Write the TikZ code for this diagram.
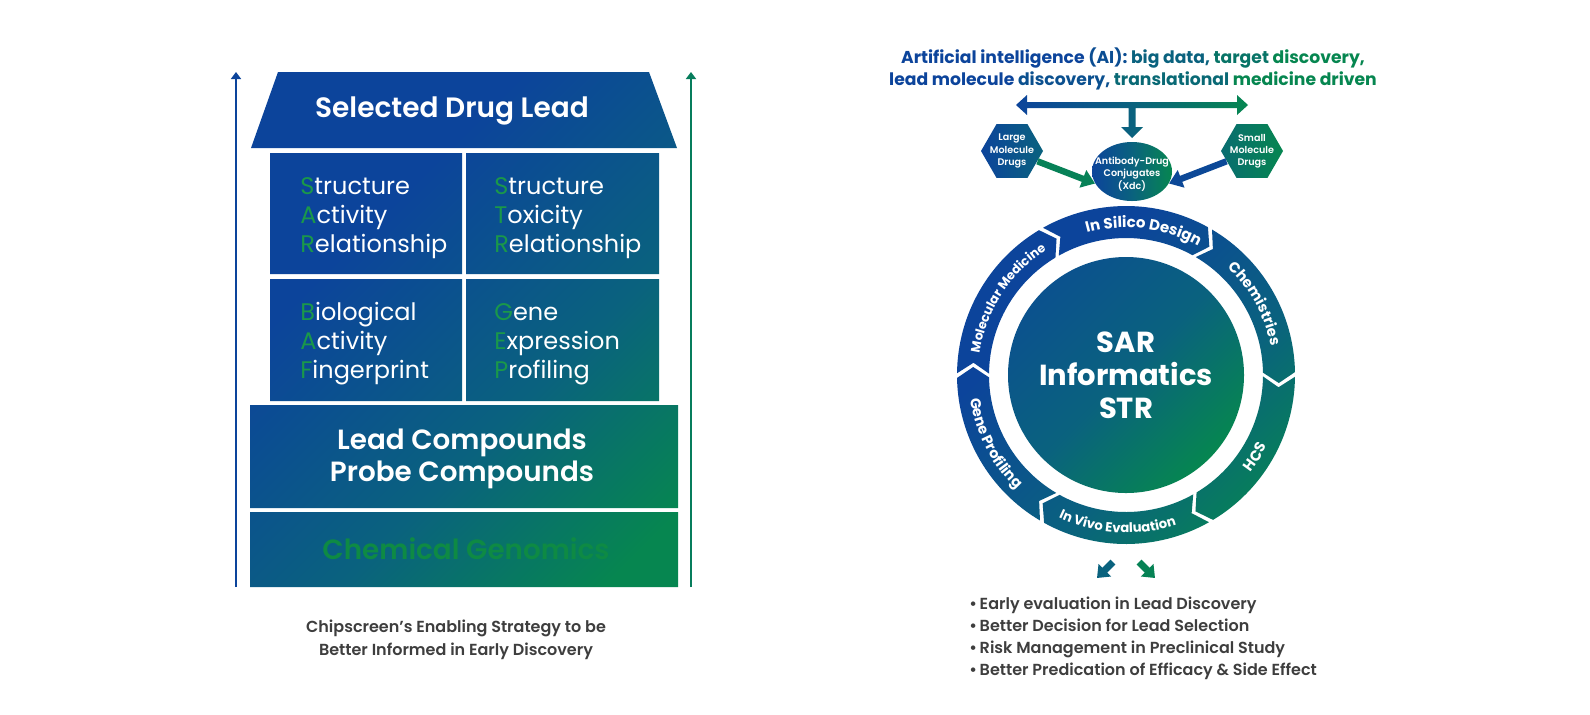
\documentclass[tikz,border=0pt]{standalone}
\usepackage{fontspec}
\setmainfont{Poppins}
\newfontfamily\popsemi{Poppins SemiBold}
\newfontfamily\popmed{Poppins Medium}
\usepackage{xcolor}
\usetikzlibrary{calc, arrows.meta, shapes.geometric, decorations.text}

\definecolor{sarblue}{RGB}{12,68,155}
\definecolor{sarteal}{RGB}{10,98,126}
\definecolor{sargreen}{RGB}{6,134,80}
\definecolor{initgreen}{RGB}{26,152,74}
\definecolor{chemgreen}{RGB}{14,138,68}
\definecolor{notegray}{RGB}{62,62,62}

\pgfdeclarehorizontalshading{bluegreen}{100bp}{color(0bp)=(sarblue); color(35bp)=(sarblue); color(60bp)=(sarteal); color(80bp)=(sargreen); color(100bp)=(sargreen)}

\newcommand{\firstchar}[1]{\textcolor{initgreen}{#1}}

\tikzset{
	hexbox/.style={regular polygon, regular polygon sides=6, minimum size=31pt, inner sep=0pt},
	smalltext/.style={text=white, align=center, font=\popsemi\fontsize{4.8}{6.1}\selectfont},
	celltext/.style={anchor=west, align=left, inner sep=0pt, text=white, font=\fontsize{12}{14.5}\selectfont},
	ringlabel/.style n args={2}{decorate, decoration={text along path, text align=center, text color=white, text={|\bfseries\fontsize{#1}{8}\selectfont|#2}}},
}

\begin{document}
\begin{tikzpicture}[x=0.5pt, y=-0.5pt]
	\fill[white] (0,0) rectangle (1590,714);
	
	\begin{scope}
		\shade[shading=bluegreen, shading angle=-45]
			(278,72) -- (649,72) -- (677,148) -- (251,148) -- cycle
			(270,153) rectangle (462,274)
			(466,153) rectangle (659,274)
			(270,279) rectangle (462,401)
			(466,279) rectangle (659,401)
			(250,405) rectangle (678,508)
			(250,512) rectangle (678,587);
	\end{scope}
	
	\coordinate (leftfoot) at (236,587);
	\coordinate (lefttop) at (236,72);
	\coordinate (rightfoot) at (691,587);
	\coordinate (righttop) at (691,72);
	\begin{scope}[line width=1pt, -{Triangle[width=5pt,length=3.5pt]}]
		\draw[sarblue] (leftfoot) -- (lefttop);
		\draw[sargreen!75!sarteal] (rightfoot) -- (righttop);
	\end{scope}
	
	\node[font=\popsemi\fontsize{14}{16}\selectfont, text=white] (druglead) at (452,111) {Selected Drug Lead};
	\node[celltext] (sar) at (300,218) {\firstchar{S}tructure\\\firstchar{A}ctivity\\\firstchar{R}elationship};
	\node[celltext] (str) at (494,218) {\firstchar{S}tructure\\\firstchar{T}oxicity\\\firstchar{R}elationship};
	\node[celltext] (baf) at (300,344) {\firstchar{B}iological\\\firstchar{A}ctivity\\\firstchar{F}ingerprint};
	\node[celltext] (gep) at (494,344) {\firstchar{G}ene\\\firstchar{E}xpression\\\firstchar{P}rofiling};
	\node[font=\popsemi\fontsize{13.9}{16}\selectfont, text=white, align=center] (compounds) at (462,459) {Lead Compounds\\Probe Compounds};
	\node[font=\popsemi\fontsize{13.9}{16}\selectfont, text=chemgreen] (genomics) at (466,549) {Chemical Genomics};
	\node[font=\popsemi\fontsize{8}{11.5}\selectfont, text=notegray, align=center] (strategy) at (456,640) {Chipscreen’s Enabling Strategy to be\\Better Informed in Early Discovery};
	
	\node[font=\bfseries\fontsize{8.6}{11}\selectfont, align=center] (ai) at (1133,69) {\textcolor{sarblue}{Artificial intelligence} \textcolor{sarblue!70!sarteal}{(AI):} \textcolor{sarteal}{big data,} \textcolor{sarteal!50!sargreen}{target} \textcolor{sargreen}{discovery,}\\\textcolor{sarblue}{lead molecule} \textcolor{sarblue!60!sarteal}{discovery,} \textcolor{sarteal!80!sargreen}{translational} \textcolor{sargreen}{medicine driven}};
	
	\shade[left color=sarblue, right color=sargreen, middle color=sarteal]
		(1016,105) -- (1027,95) -- (1027,102) -- (1237,102) -- (1237,95) -- (1248,105) -- (1237,115) -- (1237,108) -- (1027,108) -- (1027,115) -- cycle
		(1128.5,108) -- (1135.5,108) -- (1135.5,127) -- (1143,127) -- (1132,138) -- (1121,127) -- (1128.5,127) -- cycle;
	
	\node[hexbox, left color=sarblue, right color=sarteal] (large) at (1012,151) {};
	\node[smalltext] (largetext) at (large) {Large\\Molecule\\Drugs};
	\node[hexbox, left color=sarteal!70!sargreen, right color=sargreen] (small) at (1252,151) {};
	\node[smalltext] (smalltext) at (small) {Small\\Molecule\\Drugs};
	\node[ellipse, minimum width=40pt, minimum height=29.5pt, inner sep=0pt, left color=sarblue, right color=sargreen, middle color=sarteal] (xdc) at (1132,171.5) {};
	\node[smalltext] (xdctext) at (1132,174) {Antibody-Drug\\Conjugates\\(Xdc)};
	\draw[sargreen!85!sarteal, line width=3.2pt, -{Triangle[width=9pt,length=6.5pt]}] (large.-22) -- (xdc.198);
	\draw[sarblue!85!sarteal, line width=3.2pt, -{Triangle[width=9pt,length=6.5pt]}] (small.202) -- (xdc.-18);
	
	\begin{scope}[shift={(1126,375)}, y=0.5pt]
		\def\rin{137};
		\def\rout{169};
		\def\rmid{153};
		\def\dip{4};
		\def\sgap{1.6};
		\shade[shading=bluegreen, shading angle=-45]
			\foreach \b in {-3,57,117,177,237,297}{
				({\b+\dip}:\rout) -- (\b:\rmid) -- ({\b+\dip}:\rin)
				arc[start angle=\b+\dip, end angle=\b+60+\dip-\sgap, radius=\rin]
				-- ({\b+60-\sgap}:\rmid) -- ({\b+60+\dip-\sgap}:\rout)
				arc[start angle=\b+60+\dip-\sgap, end angle=\b+\dip, radius=\rout] -- cycle
			};
		\shade[left color=sarblue!55!sarteal, right color=sargreen, middle color=sarteal, shading angle=45] (0,0) circle[radius=118];
		\node[font=\bfseries\fontsize{14.5}{16.5}\selectfont, text=white, align=center] (core) at (0,0) {SAR\\Informatics\\STR};
		
		\path[ringlabel={6.3}{Molecular Medicine}] (187:148) arc[start angle=187, end angle=107, radius=148];
		\path[ringlabel={7.5}{In Silico Design}] (123:147.5) arc[start angle=123, end angle=43, radius=147.5];
		\path[ringlabel={7.3}{Chemistries}] (69:148) arc[start angle=69, end angle=-11, radius=148];
		\path[ringlabel={7.3}{HCS}] (-72.3:158) arc[start angle=-72.3, end angle=7.7, radius=158];
		\path[ringlabel={6.6}{In Vivo Evaluation}] (226.7:158) arc[start angle=226.7, end angle=306.7, radius=158];
		\path[ringlabel={7.2}{Gene Profiling}] (167.5:158) arc[start angle=167.5, end angle=247.5, radius=158];
	\end{scope}
	
	\coordinate (outleft0) at (1113,562);
	\coordinate (outleft1) at (1097,578);
	\coordinate (outright0) at (1139,562);
	\coordinate (outright1) at (1155,578);
	\begin{scope}[line width=3.5pt, -{Triangle[width=8.5pt,length=5.5pt]}]
		\draw[sarteal] (outleft0) -- (outleft1);
		\draw[sargreen!90!sarteal] (outright0) -- (outright1);
	\end{scope}
	
	\node[anchor=west, align=left, inner sep=0pt, font=\popsemi\fontsize{8}{11}\selectfont, text=notegray] (gains) at (969,638) {•\,Early evaluation in Lead Discovery\\•\,Better Decision for Lead Selection\\•\,Risk Management in Preclinical Study\\•\,Better Predication of Efficacy \& Side Effect};
\end{tikzpicture}
\end{document}
